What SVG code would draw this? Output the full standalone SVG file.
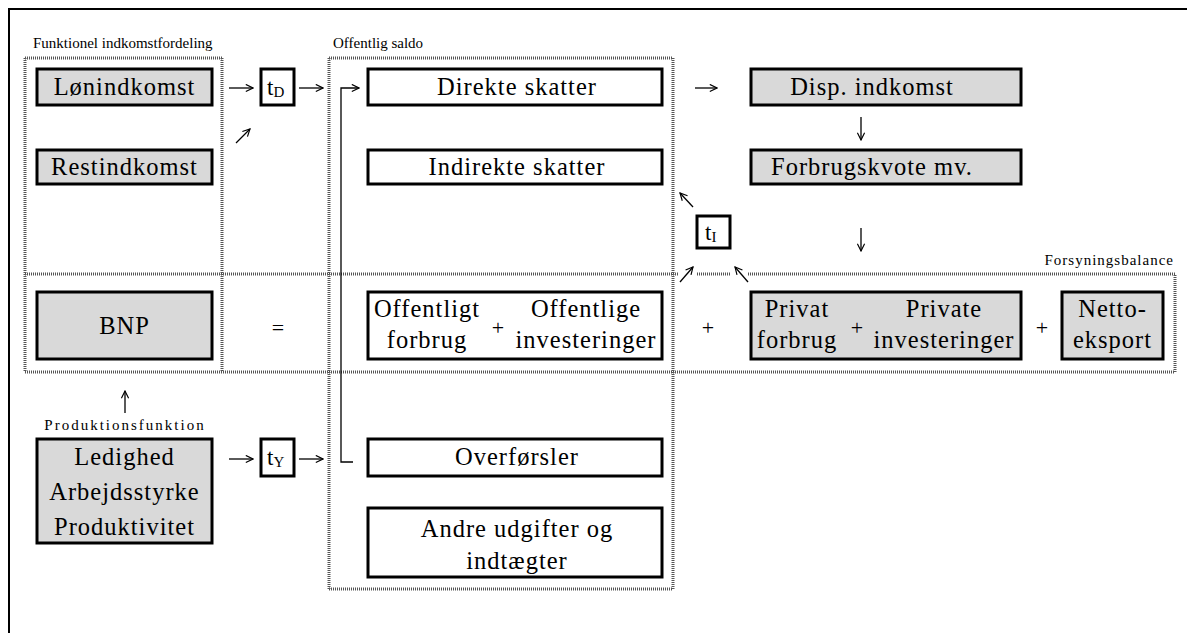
<svg xmlns="http://www.w3.org/2000/svg" width="1187" height="633" viewBox="0 0 1187 633" font-family="'Liberation Serif', 'Times New Roman', Times, serif">
<defs>
<marker id="ah" viewBox="0 0 10 10" refX="9" refY="5" markerWidth="9" markerHeight="9" markerUnits="userSpaceOnUse" orient="auto">
<path d="M1,1 L9,5 L1,9" fill="none" stroke="#000" stroke-width="1.3"/>
</marker>
<style>
.dot{stroke:#555;stroke-width:3;stroke-dasharray:1 1;fill:none}
.frame{stroke:#000;stroke-width:2;fill:none}
.g rect{fill:#d9d9d9;stroke:#000;stroke-width:3}
.w rect{fill:#fff;stroke:#000;stroke-width:3}
.t rect{fill:#fff;stroke:#000;stroke-width:3}
text{font-family:'Liberation Serif','Times New Roman',Times,serif;fill:#000}
.big{font-size:24.5px;letter-spacing:1px;text-anchor:middle}
.sm{font-size:15px}
.con line,.con path{stroke:#000;stroke-width:1.3;fill:none}
.sym{font-size:22px;text-anchor:middle}
</style>
</defs>
<rect width="1187" height="633" fill="#fff"/>
<g id="frame">
<path class="frame" d="M9,633 V9 H1187"/>
</g>
<g id="regions">
<path class="dot" d="M25,58 H222 M25,58 V372 M222,58 V372"/>
<path class="dot" d="M329,58 H673 M329,58 V589 M673,58 V589 M329,589 H673"/>
<path class="dot" d="M25,274 H678 M697,274 H730 M748,274 H1175 V372 H25"/>
<text class="sm" x="33" y="48">Funktionel indkomstfordeling</text>
<text class="sm" x="333" y="48">Offentlig saldo</text>
<text class="sm" x="1174" y="265" text-anchor="end" letter-spacing="1">Forsyningsbalance</text>
<text class="sm" x="125" y="430" text-anchor="middle" letter-spacing="2">Produktionsfunktion</text>
</g>
<g id="loenindkomst" class="g"><rect x="37" y="69" width="175" height="36"/><text class="big" x="124.5" y="95">Lønindkomst</text></g>
<g id="restindkomst" class="g"><rect x="37" y="150" width="175" height="34"/><text class="big" x="124.5" y="175">Restindkomst</text></g>
<g id="bnp" class="g"><rect x="37" y="292" width="175" height="67"/><text class="big" x="124.5" y="334">BNP</text></g>
<g id="produktion" class="g"><rect x="37" y="439" width="175" height="104"/>
<text class="big" x="124.5" y="465">Ledighed</text><text class="big" x="124.5" y="500">Arbejdsstyrke</text><text class="big" x="124.5" y="535">Produktivitet</text></g>
<g id="tD" class="t"><rect x="261" y="69" width="33" height="36"/><text x="267" y="95" font-size="23">t<tspan font-size="15" dy="2">D</tspan></text></g>
<g id="tY" class="t"><rect x="261" y="439" width="33" height="37"/><text x="267" y="465" font-size="23">t<tspan font-size="15" dy="2">Y</tspan></text></g>
<g id="tI" class="t"><rect x="697" y="216" width="33" height="32"/><text x="705" y="240" font-size="23">t<tspan font-size="15" dy="2">I</tspan></text></g>
<g id="direkte" class="w"><rect x="368" y="69" width="294" height="36"/><text class="big" x="517" y="95">Direkte skatter</text></g>
<g id="indirekte" class="w"><rect x="368" y="150" width="294" height="34"/><text class="big" x="517" y="175">Indirekte skatter</text></g>
<g id="offentlig" class="w"><rect x="368" y="292" width="294" height="67"/>
<text class="big" x="427" y="317">Offentligt</text><text class="big" x="427" y="348">forbrug</text>
<text class="sym" x="498" y="335">+</text>
<text class="big" x="586" y="317">Offentlige</text><text class="big" x="586" y="348">investeringer</text></g>
<g id="overfoersler" class="w"><rect x="368" y="439" width="294" height="37"/><text class="big" x="517" y="465">Overførsler</text></g>
<g id="andre" class="w"><rect x="368" y="508" width="294" height="69"/><text class="big" x="517" y="537">Andre udgifter og</text><text class="big" x="517" y="569">indtægter</text></g>
<g id="disp" class="g"><rect x="751" y="69" width="270" height="36"/><text class="big" x="872" y="95">Disp. indkomst</text></g>
<g id="forbrugskvote" class="g"><rect x="751" y="150" width="270" height="34"/><text class="big" x="872" y="175">Forbrugskvote mv.</text></g>
<g id="privat" class="g"><rect x="751" y="292" width="270" height="67"/>
<text class="big" x="797" y="317">Privat</text><text class="big" x="797" y="348">forbrug</text>
<text class="sym" x="857" y="335">+</text>
<text class="big" x="944" y="317">Private</text><text class="big" x="944" y="348">investeringer</text></g>
<g id="netto" class="g"><rect x="1062" y="292" width="101" height="67"/><text class="big" x="1112.5" y="317">Netto-</text><text class="big" x="1112.5" y="348">eksport</text></g>
<g id="symbols">
<text class="sym" x="278" y="335">=</text>
<text class="sym" x="708" y="335">+</text>
<text class="sym" x="1042" y="335">+</text>
</g>
<g id="connectors" class="con">
<line x1="229" y1="88" x2="253" y2="88" marker-end="url(#ah)"/>
<line x1="299" y1="88" x2="323" y2="88" marker-end="url(#ah)"/>
<line x1="236" y1="143" x2="250" y2="129" marker-end="url(#ah)"/>
<line x1="695" y1="88" x2="717" y2="88" marker-end="url(#ah)"/>
<line x1="861" y1="117" x2="861" y2="140" marker-end="url(#ah)"/>
<line x1="861" y1="228" x2="861" y2="251" marker-end="url(#ah)"/>
<line x1="693" y1="207" x2="680" y2="193" marker-end="url(#ah)"/>
<line x1="680" y1="282" x2="693" y2="267" marker-end="url(#ah)"/>
<line x1="748" y1="282" x2="735" y2="267" marker-end="url(#ah)"/>
<line x1="125" y1="413" x2="125" y2="391" marker-end="url(#ah)"/>
<line x1="229" y1="459" x2="253" y2="459" marker-end="url(#ah)"/>
<line x1="299" y1="459" x2="323" y2="459" marker-end="url(#ah)"/>
<path d="M353,462 H341 V88 H359" stroke-width="2" marker-end="url(#ah)"/>
</g>
</svg>
